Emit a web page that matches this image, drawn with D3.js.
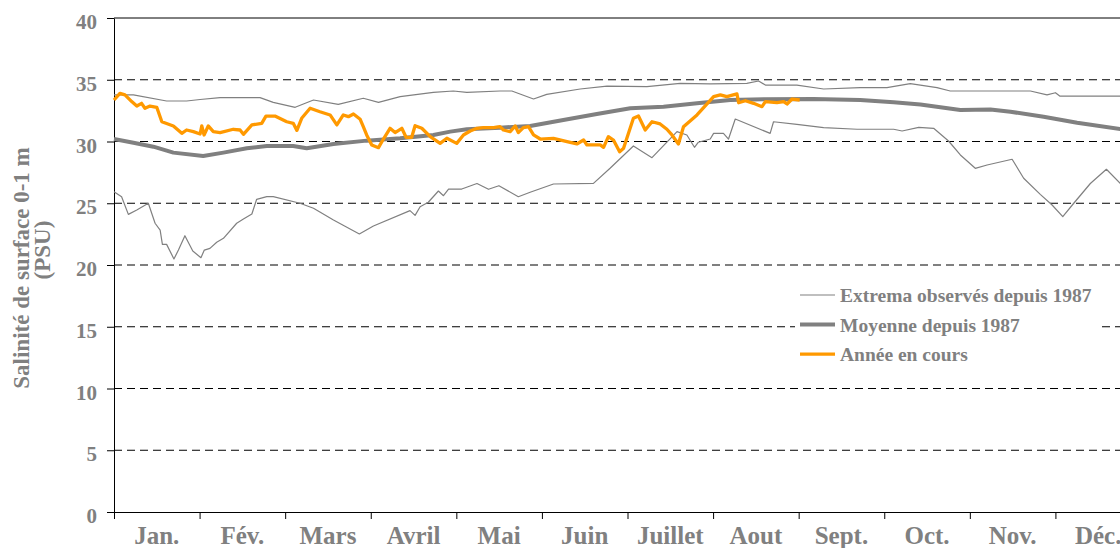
<!DOCTYPE html>
<html>
<head>
<meta charset="utf-8">
<script src="https://cdn.jsdelivr.net/npm/d3@7"></script>
<style>
    body { margin: 0; background: #fff; }
    svg { display: block; }
    text { font-family: "Liberation Serif", "Times New Roman", serif; font-weight: bold; fill: #808080; }
</style>
</head>
<body>
<div id="chart"></div>
<script>
// month labels and y ticks
var months = ["Jan.", "Fév.", "Mars", "Avril", "Mai", "Juin", "Juillet", "Aout", "Sept.", "Oct.", "Nov.", "Déc."];
var yticks = [0, 5, 10, 15, 20, 25, 30, 35, 40];

// [day of year, salinity PSU]
var extrema_max = [
    [0, 33.77], [6.9, 33.77], [18.7, 33.28], [25.8, 33.28], [30.6, 33.4], [37.7, 33.55],
    [51.9, 33.55], [56.6, 33.17], [64.4, 32.77], [70.9, 33.36], [79.7, 33.0], [88.6, 33.5],
    [94.0, 33.17], [101.7, 33.63], [113.5, 33.98], [120.6, 34.09], [125.4, 33.98], [137.2, 34.09],
    [141.4, 34.09], [149.1, 33.44], [153.8, 33.82], [165.7, 34.25], [175.2, 34.49], [189.4, 34.44],
    [201.2, 34.71], [211.9, 34.66], [224.9, 34.71], [229.1, 34.9], [231.5, 34.57], [242.7, 34.57],
    [252.2, 34.25], [265.2, 34.36], [274.7, 34.36], [283.0, 34.68], [292.5, 34.36], [297.2, 34.09],
    [325.7, 34.09], [331.6, 33.77], [334.6, 33.95], [336.1, 33.68], [357.7, 33.68], [365, 33.68]
];

var extrema_min = [
    [0, 25.94], [2.7, 25.53], [5.1, 24.1], [8.1, 24.45], [12.2, 25.0], [14.6, 23.38],
    [16.4, 22.83], [17.2, 21.67], [18.7, 21.67], [21.3, 20.49], [22.9, 21.21], [25.2, 22.37],
    [28.0, 21.13], [30.9, 20.59], [32.1, 21.21], [34.1, 21.35], [36.5, 21.84], [38.9, 22.16],
    [43.6, 23.38], [46.0, 23.72], [49.0, 24.13], [50.7, 25.32], [54.3, 25.53], [56.6, 25.53],
    [66.1, 25.0], [70.9, 24.59], [78.0, 23.64], [87.2, 22.51], [92.2, 23.16], [105.2, 24.4],
    [107.0, 24.02], [108.8, 24.72], [111.7, 25.08], [115.3, 25.99], [117.1, 25.61], [118.9, 26.15],
    [123.6, 26.15], [129.0, 26.6], [133.1, 26.13], [136.8, 26.42], [143.7, 25.53], [147.9, 25.89],
    [156.2, 26.56], [170.4, 26.61], [176.3, 27.83], [184.6, 29.64], [191.2, 28.69], [200.1, 30.8],
    [203.6, 30.53], [206.3, 29.53], [207.7, 29.94], [211.9, 30.2], [213.1, 30.66], [216.6, 30.66],
    [218.4, 30.2], [220.8, 31.82], [233.2, 30.66], [234.4, 31.6], [242.7, 31.39], [252.2, 31.12],
    [264.1, 30.99], [277.1, 30.99], [280.1, 30.85], [286.0, 31.15], [291.3, 31.07], [296.6, 30.04],
    [300.8, 28.91], [306.1, 27.83], [310.3, 28.1], [319.2, 28.56], [323.3, 27.02], [329.2, 25.72],
    [333.4, 24.86], [337.2, 23.91], [341.1, 25.0], [347.0, 26.6], [352.7, 27.75], [357.7, 26.6],
    [365, 25.9]
];

var moyenne = [
    [0, 30.2], [6.9, 29.9], [14.0, 29.58], [21.1, 29.1], [31.7, 28.83], [38.9, 29.1],
    [47.2, 29.45], [54.3, 29.64], [63.7, 29.64], [68.5, 29.45], [78.0, 29.8], [89.8, 30.07],
    [101.7, 30.26], [113.5, 30.53], [119.5, 30.8], [125.4, 30.99], [137.2, 31.12], [147.9, 31.26],
    [159.7, 31.74], [171.6, 32.23], [183.5, 32.69], [195.3, 32.82], [207.2, 33.09], [219.0, 33.36],
    [230.9, 33.42], [248.6, 33.44], [265.2, 33.36], [277.1, 33.17], [286.6, 33.0], [300.8, 32.55],
    [311.5, 32.6], [318.6, 32.41], [330.4, 32.0], [342.3, 31.52], [357.7, 31.0], [365, 30.8]
];

var annee = [
    [0, 33.36], [2.1, 33.9], [3.9, 33.77], [6.3, 33.23], [8.1, 32.87], [9.8, 33.09],
    [11.0, 32.69], [12.8, 32.87], [15.2, 32.77], [17.0, 31.6], [21.1, 31.26], [24.1, 30.66],
    [25.8, 30.93], [28.2, 30.8], [30.6, 30.61], [31.2, 31.26], [32.0, 30.53], [33.5, 31.26],
    [35.3, 30.8], [37.7, 30.72], [42.4, 30.99], [44.8, 30.93], [46.0, 30.58], [49.0, 31.34],
    [52.5, 31.47], [54.0, 32.06], [57.2, 32.06], [61.4, 31.6], [63.7, 31.47], [65.0, 30.9],
    [66.7, 31.88], [69.7, 32.69], [73.2, 32.41], [76.8, 32.15], [79.2, 31.34], [81.5, 32.15],
    [83.3, 32.01], [85.1, 32.23], [87.5, 31.8], [88.6, 31.2], [89.8, 30.53], [91.6, 29.72],
    [94.0, 29.5], [95.7, 30.18], [98.1, 31.07], [99.9, 30.72], [102.3, 31.07], [103.8, 30.34],
    [105.8, 30.34], [107.0, 31.28], [109.4, 31.07], [112.4, 30.39], [115.9, 29.85], [118.3, 30.26],
    [121.8, 29.85], [124.2, 30.53], [126.6, 30.85], [129.0, 31.07], [131.3, 31.12], [134.9, 31.12],
    [137.2, 31.2], [138.4, 30.93], [140.8, 30.8], [142.6, 31.26], [143.7, 30.72], [145.5, 31.12],
    [147.3, 31.2], [149.1, 30.53], [151.5, 30.2], [156.2, 30.26], [161.0, 29.99], [164.5, 29.8],
    [166.9, 30.12], [168.1, 29.72], [172.8, 29.72], [174.0, 29.53], [175.7, 30.39], [177.5, 30.12],
    [179.7, 29.17], [181.1, 29.45], [184.6, 31.88], [186.4, 32.06], [188.8, 30.93], [191.2, 31.6],
    [194.1, 31.42], [196.5, 30.99], [198.3, 30.53], [200.6, 29.8], [202.4, 31.2], [207.2, 32.15],
    [213.1, 33.63], [215.5, 33.77], [217.8, 33.63], [221.4, 33.85], [222.0, 33.14], [224.4, 33.3],
    [227.3, 33.09], [230.3, 32.82], [231.5, 33.23], [235.6, 33.14], [238.0, 33.23], [239.2, 33.04],
    [241.0, 33.44], [243.7, 33.36]
];

var legend_items = [
    {label: "Extrema observés depuis 1987", color: "#808080", width: 1.2},
    {label: "Moyenne depuis 1987", color: "#808080", width: 4},
    {label: "Année en cours", color: "#ff9900", width: 3.3}
];

var params = {
    width: 1120,
    height: 548,
    left: 114,
    top: 18,
    bottom: 512,
    right: 1141
};

function plot_all() {

    var svg = d3.select("#chart").append("svg")
        .attr("width", params.width)
        .attr("height", params.height);

    var x = d3.scaleLinear().domain([0, 365]).range([params.left, params.right]);
    var y = d3.scaleLinear().domain([0, 40]).range([params.bottom, params.top]);

    // dashed gridlines
    svg.append("g")
        .selectAll("line")
        .data(yticks.filter(function(d) { return d > 0 && d < 40; }))
        .join("line")
        .attr("x1", params.left)
        .attr("x2", params.right)
        .attr("y1", function(d) { return y(d); })
        .attr("y2", function(d) { return y(d); })
        .attr("stroke", "#000")
        .attr("stroke-width", 1)
        .attr("stroke-dasharray", "8,5");

    // top border
    svg.append("line")
        .attr("x1", params.left).attr("x2", params.right)
        .attr("y1", y(40)).attr("y2", y(40))
        .attr("stroke", "#000");

    var month_len = 365 / 12;

    // y axis
    var yaxis = svg.append("g")
        .attr("transform", "translate(" + params.left + ",0)")
        .call(d3.axisLeft(y).tickValues(yticks).tickSize(7).tickSizeOuter(0).tickPadding(10));
    yaxis.selectAll("text")
        .attr("dy", "0.5em")
        .style("font-size", "21px");

    // x axis
    svg.append("g")
        .attr("transform", "translate(0," + params.bottom + ")")
        .call(d3.axisBottom(x)
            .tickValues(d3.range(0, 13).map(function(i) { return i * month_len; }))
            .tickSize(7).tickSizeOuter(0).tickFormat(""));

    svg.selectAll(".domain, .tick line").attr("stroke", "#000");
    svg.selectAll(".tick text").attr("fill", "#808080");

    svg.append("g")
        .selectAll("text")
        .data(months)
        .join("text")
        .attr("x", function(d, i) { return x((i + 0.5) * month_len); })
        .attr("y", 544)
        .attr("text-anchor", "middle")
        .style("font-size", "25px")
        .text(function(d) { return d; });

    // y title
    svg.append("text")
        .attr("transform", "translate(29,268) rotate(-90)")
        .attr("text-anchor", "middle")
        .style("font-size", "23px")
        .text("Salinité de surface 0-1 m");
    svg.append("text")
        .attr("transform", "translate(50,250) rotate(-90)")
        .attr("text-anchor", "middle")
        .style("font-size", "23px")
        .text("(PSU)");

    // series
    var line = d3.line()
        .x(function(d) { return x(d[0]); })
        .y(function(d) { return y(d[1]); });

    var series = [
        {data: extrema_max, color: "#808080", width: 1.2},
        {data: extrema_min, color: "#808080", width: 1.2},
        {data: moyenne, color: "#808080", width: 4},
        {data: annee, color: "#ff9900", width: 3.3}
    ];

    svg.append("g")
        .selectAll("path")
        .data(series)
        .join("path")
        .attr("d", function(d) { return line(d.data); })
        .attr("fill", "none")
        .attr("stroke", function(d) { return d.color; })
        .attr("stroke-width", function(d) { return d.width; })
        .attr("stroke-linejoin", "round");

    add_legend(svg);
}

function add_legend(svg) {

    var lg = svg.append("g");

    lg.append("rect")
        .attr("x", 795)
        .attr("y", 281)
        .attr("width", 302)
        .attr("height", 90)
        .attr("fill", "#fff");

    var rows = lg.selectAll("g")
        .data(legend_items)
        .join("g")
        .attr("transform", function(d, i) { return "translate(800," + (295 + i * 29.6) + ")"; });

    rows.append("line")
        .attr("x1", 0).attr("x2", 35)
        .attr("stroke", function(d) { return d.color; })
        .attr("stroke-width", function(d) { return d.width; });

    rows.append("text")
        .attr("x", 40)
        .attr("y", 7)
        .style("font-size", "19.5px")
        .text(function(d) { return d.label; });
}

plot_all();
</script>
</body>
</html>
